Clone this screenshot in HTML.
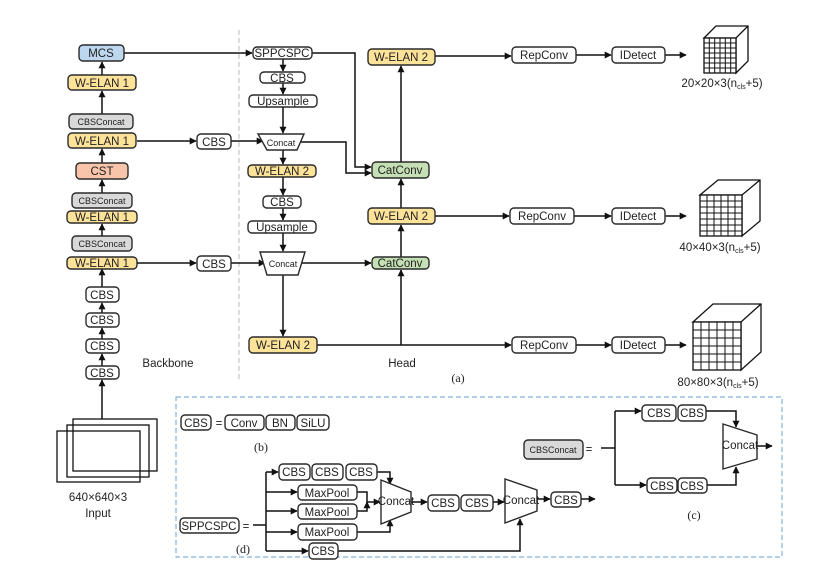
<!DOCTYPE html>
<html><head><meta charset="utf-8"><style>
html,body{margin:0;padding:0;background:#fff;}
svg{display:block;}
text{font-family:"Liberation Sans","DejaVu Sans",sans-serif;font-size:11.5px;fill:#222;}
.b{stroke:#2a2a2a;stroke-width:1.4;}
.l{stroke:#111;stroke-width:1.5;fill:none;}
.s{font-size:9px;}
.f{font-family:"Liberation Serif",serif;font-size:12px;}
</style></head><body>
<svg width="820" height="568" viewBox="0 0 820 568" xmlns="http://www.w3.org/2000/svg">
<defs>
<marker id="a" viewBox="0 0 10 10" refX="9" refY="5" markerWidth="7" markerHeight="7" orient="auto" markerUnits="userSpaceOnUse"><path d="M0,0L10,5L0,10z" fill="#111"/></marker>
</defs>

<line x1="239" y1="30" x2="239" y2="380" stroke="#bbb" stroke-width="1" stroke-dasharray="5,3"/>

<g class="l" marker-end="url(#a)">
<line x1="102" y1="419" x2="102" y2="380"/>
<line x1="102" y1="366" x2="102" y2="354"/>
<line x1="102" y1="339" x2="102" y2="328"/>
<line x1="102" y1="313" x2="102" y2="303"/>
<line x1="102" y1="287" x2="102" y2="269"/>
<line x1="102" y1="236" x2="102" y2="224"/>
<line x1="102" y1="193" x2="102" y2="180"/>
<line x1="102" y1="163" x2="102" y2="149"/>
<line x1="102" y1="114" x2="102" y2="91"/>
<line x1="102" y1="75" x2="102" y2="62"/>
<line x1="124" y1="53" x2="252" y2="53"/>
<line x1="137" y1="141" x2="196" y2="141"/>
<line x1="137" y1="263" x2="196" y2="263"/>
<line x1="231" y1="141" x2="263" y2="141"/>
<line x1="231" y1="263" x2="265" y2="263"/>
<line x1="283" y1="59" x2="283" y2="71"/>
<line x1="283" y1="83" x2="283" y2="94"/>
<line x1="283" y1="107" x2="283" y2="133"/>
<line x1="283" y1="150" x2="283" y2="164"/>
<line x1="283" y1="177" x2="283" y2="195"/>
<line x1="283" y1="208" x2="283" y2="220"/>
<line x1="283" y1="233" x2="283" y2="251"/>
<line x1="283" y1="275" x2="283" y2="336"/>
<polyline points="312,53 355,53 355,167 371,167"/>
<polyline points="301,142 346,142 346,173 371,173"/>
<line x1="302" y1="263" x2="371" y2="263"/>
<line x1="401" y1="345" x2="401" y2="270"/>
<line x1="401" y1="258" x2="401" y2="225"/>
<line x1="401" y1="208" x2="401" y2="179"/>
<line x1="401" y1="162" x2="401" y2="66"/>
<line x1="435" y1="56" x2="511" y2="56"/>
<line x1="435" y1="216" x2="509" y2="216"/>
<line x1="317" y1="345" x2="511" y2="345"/>
<line x1="576" y1="55" x2="611" y2="55"/>
<line x1="574" y1="216" x2="611" y2="216"/>
<line x1="576" y1="345" x2="611" y2="345"/>
<line x1="665" y1="55" x2="686" y2="55"/>
<line x1="665" y1="216" x2="686" y2="216"/>
<line x1="665" y1="345" x2="686" y2="345"/>
</g>

<g class="b">
<rect x="79" y="45" width="45" height="16" rx="4" fill="#bdd7ee"/>
<rect x="68" y="75" width="68" height="15" rx="4" fill="#fde29a"/>
<rect x="69" y="114" width="64" height="15" rx="4" fill="#d9d9d9"/>
<rect x="68" y="133" width="68" height="15" rx="4" fill="#fde29a"/>
<rect x="76" y="163" width="52" height="16" rx="4" fill="#f8c4aa"/>
<rect x="72" y="193" width="60" height="15" rx="4" fill="#d9d9d9"/>
<rect x="67" y="211" width="70" height="12" rx="4" fill="#fde29a"/>
<rect x="72" y="236" width="60" height="15" rx="4" fill="#d9d9d9"/>
<rect x="67" y="257" width="70" height="12" rx="4" fill="#fde29a"/>
<rect x="86" y="287" width="33" height="15" rx="4" fill="#fff"/>
<rect x="86" y="313" width="33" height="14" rx="4" fill="#fff"/>
<rect x="86" y="339" width="33" height="14" rx="4" fill="#fff"/>
<rect x="86" y="366" width="33" height="13" rx="4" fill="#fff"/>
<rect x="197" y="134" width="34" height="15" rx="4" fill="#fff"/>
<rect x="197" y="256" width="34" height="15" rx="4" fill="#fff"/>
<rect x="253" y="47" width="59" height="12" rx="4" fill="#fff"/>
<rect x="260" y="72" width="45" height="11" rx="4" fill="#fff"/>
<rect x="249" y="95" width="68" height="12" rx="4" fill="#fff"/>
<polygon points="258,134 304,134 297,150 267,150" fill="#fff"/>
<rect x="248" y="165" width="68" height="12" rx="4" fill="#fde29a"/>
<rect x="263" y="196" width="38" height="12" rx="4" fill="#fff"/>
<rect x="248" y="221" width="68" height="12" rx="4" fill="#fff"/>
<polygon points="260,252 305,252 298,275 267,275" fill="#fff"/>
<rect x="249" y="337" width="68" height="16" rx="4" fill="#fde29a"/>
<rect x="368" y="49" width="67" height="16" rx="4" fill="#fde29a"/>
<rect x="372" y="162" width="57" height="16" rx="4" fill="#c5e0b4"/>
<rect x="368" y="208" width="67" height="16" rx="4" fill="#fde29a"/>
<rect x="372" y="257" width="57" height="12" rx="4" fill="#c5e0b4"/>
<rect x="512" y="47" width="64" height="16" rx="4" fill="#fff"/>
<rect x="612" y="47" width="53" height="16" rx="4" fill="#fff"/>
<rect x="510" y="208" width="64" height="16" rx="4" fill="#fff"/>
<rect x="612" y="208" width="53" height="16" rx="4" fill="#fff"/>
<rect x="512" y="337" width="64" height="16" rx="4" fill="#fff"/>
<rect x="612" y="337" width="53" height="16" rx="4" fill="#fff"/>
</g>

<g text-anchor="middle">
<text x="101" y="57">MCS</text>
<text x="102" y="87">W-ELAN 1</text>
<text x="101" y="125" class="s">CBSConcat</text>
<text x="102" y="145">W-ELAN 1</text>
<text x="102" y="175">CST</text>
<text x="102" y="204" class="s">CBSConcat</text>
<text x="102" y="221">W-ELAN 1</text>
<text x="102" y="247" class="s">CBSConcat</text>
<text x="102" y="267">W-ELAN 1</text>
<text x="102" y="299">CBS</text>
<text x="102" y="324">CBS</text>
<text x="102" y="350">CBS</text>
<text x="102" y="377">CBS</text>
<text x="214" y="146">CBS</text>
<text x="214" y="268">CBS</text>
<text x="282" y="57">SPPCSPC</text>
<text x="282" y="82">CBS</text>
<text x="283" y="105">Upsample</text>
<text x="281" y="146" class="s">Concat</text>
<text x="282" y="175">W-ELAN 2</text>
<text x="282" y="206">CBS</text>
<text x="282" y="231">Upsample</text>
<text x="283" y="267" class="s">Concat</text>
<text x="283" y="349">W-ELAN 2</text>
<text x="401" y="61">W-ELAN 2</text>
<text x="400" y="174">CatConv</text>
<text x="401" y="220">W-ELAN 2</text>
<text x="400" y="267">CatConv</text>
<text x="544" y="59">RepConv</text>
<text x="638" y="59">IDetect</text>
<text x="542" y="220">RepConv</text>
<text x="638" y="220">IDetect</text>
<text x="544" y="349">RepConv</text>
<text x="638" y="349">IDetect</text>
<text x="168" y="367">Backbone</text>
<text x="402" y="367">Head</text>
<text x="458" y="382" class="f">(a)</text>
<text x="98" y="501">640×640×3</text>
<text x="98" y="517">Input</text>
<text x="722" y="87" font-size="9.5">20×20×3(n<tspan font-size="7" dy="2">cls</tspan><tspan dy="-2">+5)</tspan></text>
<text x="720" y="251" font-size="9.5">40×40×3(n<tspan font-size="7" dy="2">cls</tspan><tspan dy="-2">+5)</tspan></text>
<text x="718" y="386" font-size="9.5">80×80×3(n<tspan font-size="7" dy="2">cls</tspan><tspan dy="-2">+5)</tspan></text>
</g>

<g stroke="#111" stroke-width="1.3" fill="#fff">
<path d="M704,38 L716,26 L748,26 L748,61 L736,73 L736,38 Z M704,38 L736,38 L748,26"/>
<rect x="704" y="38" width="32" height="35"/>
<path d="M709.3,38V73M714.7,38V73M720,38V73M725.3,38V73M730.7,38V73M704,43H736M704,48H736M704,53H736M704,58H736M704,63H736M704,68H736" stroke-width="1"/>
<path d="M700,195 L718,180 L760,180 L760,221 L742,236 L742,195 Z M700,195 L742,195 L760,180"/>
<rect x="700" y="195" width="42" height="41"/>
<path d="M707,195V236M714,195V236M721,195V236M728,195V236M735,195V236M700,201H742M700,207H742M700,213H742M700,219H742M700,225H742M700,231H742" stroke-width="1"/>
<path d="M693,322 L713,304 L761,304 L761,352 L741,370 L741,322 Z M693,322 L741,322 L761,304"/>
<rect x="693" y="322" width="48" height="48"/>
<path d="M701,322V370M709,322V370M717,322V370M725,322V370M733,322V370M693,330H741M693,338H741M693,346H741M693,354H741M693,362H741" stroke-width="1"/>
</g>

<g fill="none" stroke="#111" stroke-width="1.3">
<rect x="73" y="419" width="84" height="52"/>
<rect x="67" y="425" width="82" height="52"/>
<rect x="57" y="431" width="83" height="51"/>
</g>

<rect x="176" y="397" width="606" height="160" fill="none" stroke="#6a9fd4" stroke-width="1" stroke-dasharray="5,3"/>

<g class="l" marker-end="url(#a)">
<line x1="266" y1="472" x2="278" y2="472"/>
<line x1="266" y1="492" x2="297" y2="492"/>
<line x1="266" y1="511" x2="297" y2="511"/>
<line x1="266" y1="532" x2="297" y2="532"/>
<line x1="266" y1="551" x2="308" y2="551"/>
<polyline points="377,472 390,472 390,484"/>
<polyline points="357,492 367,492 367,502 380,502"/>
<polyline points="357,511 367,511 367,502"/>
<polyline points="357,532 390,532 390,520"/>
<line x1="411" y1="502" x2="427" y2="502"/>
<line x1="493" y1="502" x2="504" y2="502"/>
<polyline points="338,551 520,551 520,519"/>
<line x1="537" y1="499" x2="550" y2="499"/>
<line x1="581" y1="499" x2="595" y2="499"/>
<polyline points="615,411 641,411"/>
<polyline points="615,485 646,485"/>
<polyline points="706,411 736,411 736,427"/>
<polyline points="707,485 736,485 736,467"/>
<line x1="757" y1="446" x2="772" y2="446"/>
</g>
<g class="l">
<line x1="253" y1="525" x2="266" y2="525"/>
<line x1="266" y1="472" x2="266" y2="551"/>
<line x1="601" y1="448" x2="615" y2="448"/>
<line x1="615" y1="411" x2="615" y2="485"/>
</g>

<g class="b">
<rect x="181" y="415" width="30" height="15" rx="4" fill="#fff"/>
<rect x="225" y="415" width="39" height="15" rx="4" fill="#fff"/>
<rect x="266" y="415" width="29" height="15" rx="4" fill="#fff"/>
<rect x="297" y="415" width="32" height="15" rx="4" fill="#fff"/>
<rect x="279" y="464" width="31" height="16" rx="4" fill="#fff"/>
<rect x="312" y="464" width="31" height="16" rx="4" fill="#fff"/>
<rect x="346" y="464" width="31" height="16" rx="4" fill="#fff"/>
<rect x="298" y="485" width="59" height="15" rx="4" fill="#fff"/>
<rect x="298" y="504" width="59" height="15" rx="4" fill="#fff"/>
<rect x="298" y="524" width="59" height="16" rx="4" fill="#fff"/>
<rect x="309" y="543" width="29" height="16" rx="4" fill="#fff"/>
<rect x="180" y="518" width="59" height="15" rx="4" fill="#fff"/>
<polygon points="381,480 411,492 411,512 381,524" fill="#fff"/>
<rect x="428" y="495" width="31" height="16" rx="4" fill="#fff"/>
<rect x="461" y="495" width="32" height="16" rx="4" fill="#fff"/>
<polygon points="505,479 537,490 537,511 505,523" fill="#fff"/>
<rect x="551" y="492" width="30" height="15" rx="4" fill="#fff"/>
<rect x="524" y="440" width="59" height="19" rx="4" fill="#d9d9d9"/>
<rect x="642" y="405" width="34" height="16" rx="4" fill="#fff"/>
<rect x="678" y="405" width="28" height="16" rx="4" fill="#fff"/>
<rect x="647" y="478" width="30" height="15" rx="4" fill="#fff"/>
<rect x="678" y="478" width="29" height="15" rx="4" fill="#fff"/>
<polygon points="723,424 757,435 757,459 723,469" fill="#fff"/>
</g>

<g text-anchor="middle">
<text x="196" y="427">CBS</text>
<text x="219" y="427">=</text>
<text x="244" y="427">Conv</text>
<text x="280" y="427">BN</text>
<text x="313" y="427">SiLU</text>
<text x="261" y="451" class="f">(b)</text>
<text x="294" y="476">CBS</text>
<text x="327" y="476">CBS</text>
<text x="361" y="476">CBS</text>
<text x="327" y="497">MaxPool</text>
<text x="327" y="516">MaxPool</text>
<text x="327" y="536">MaxPool</text>
<text x="323" y="555">CBS</text>
<text x="209" y="530">SPPCSPC</text>
<text x="246" y="530">=</text>
<text x="243" y="553" class="f">(d)</text>
<text x="396" y="505" font-size="7.5">Concat</text>
<text x="443" y="507">CBS</text>
<text x="477" y="507">CBS</text>
<text x="521" y="504" font-size="8">Concat</text>
<text x="566" y="504">CBS</text>
<text x="553" y="453" class="s">CBSConcat</text>
<text x="589" y="453">=</text>
<text x="659" y="417">CBS</text>
<text x="692" y="417">CBS</text>
<text x="662" y="490">CBS</text>
<text x="692" y="490">CBS</text>
<text x="740" y="449" font-size="8">Concat</text>
<text x="694" y="519" class="f">(c)</text>
</g>
</svg>
</body></html>
